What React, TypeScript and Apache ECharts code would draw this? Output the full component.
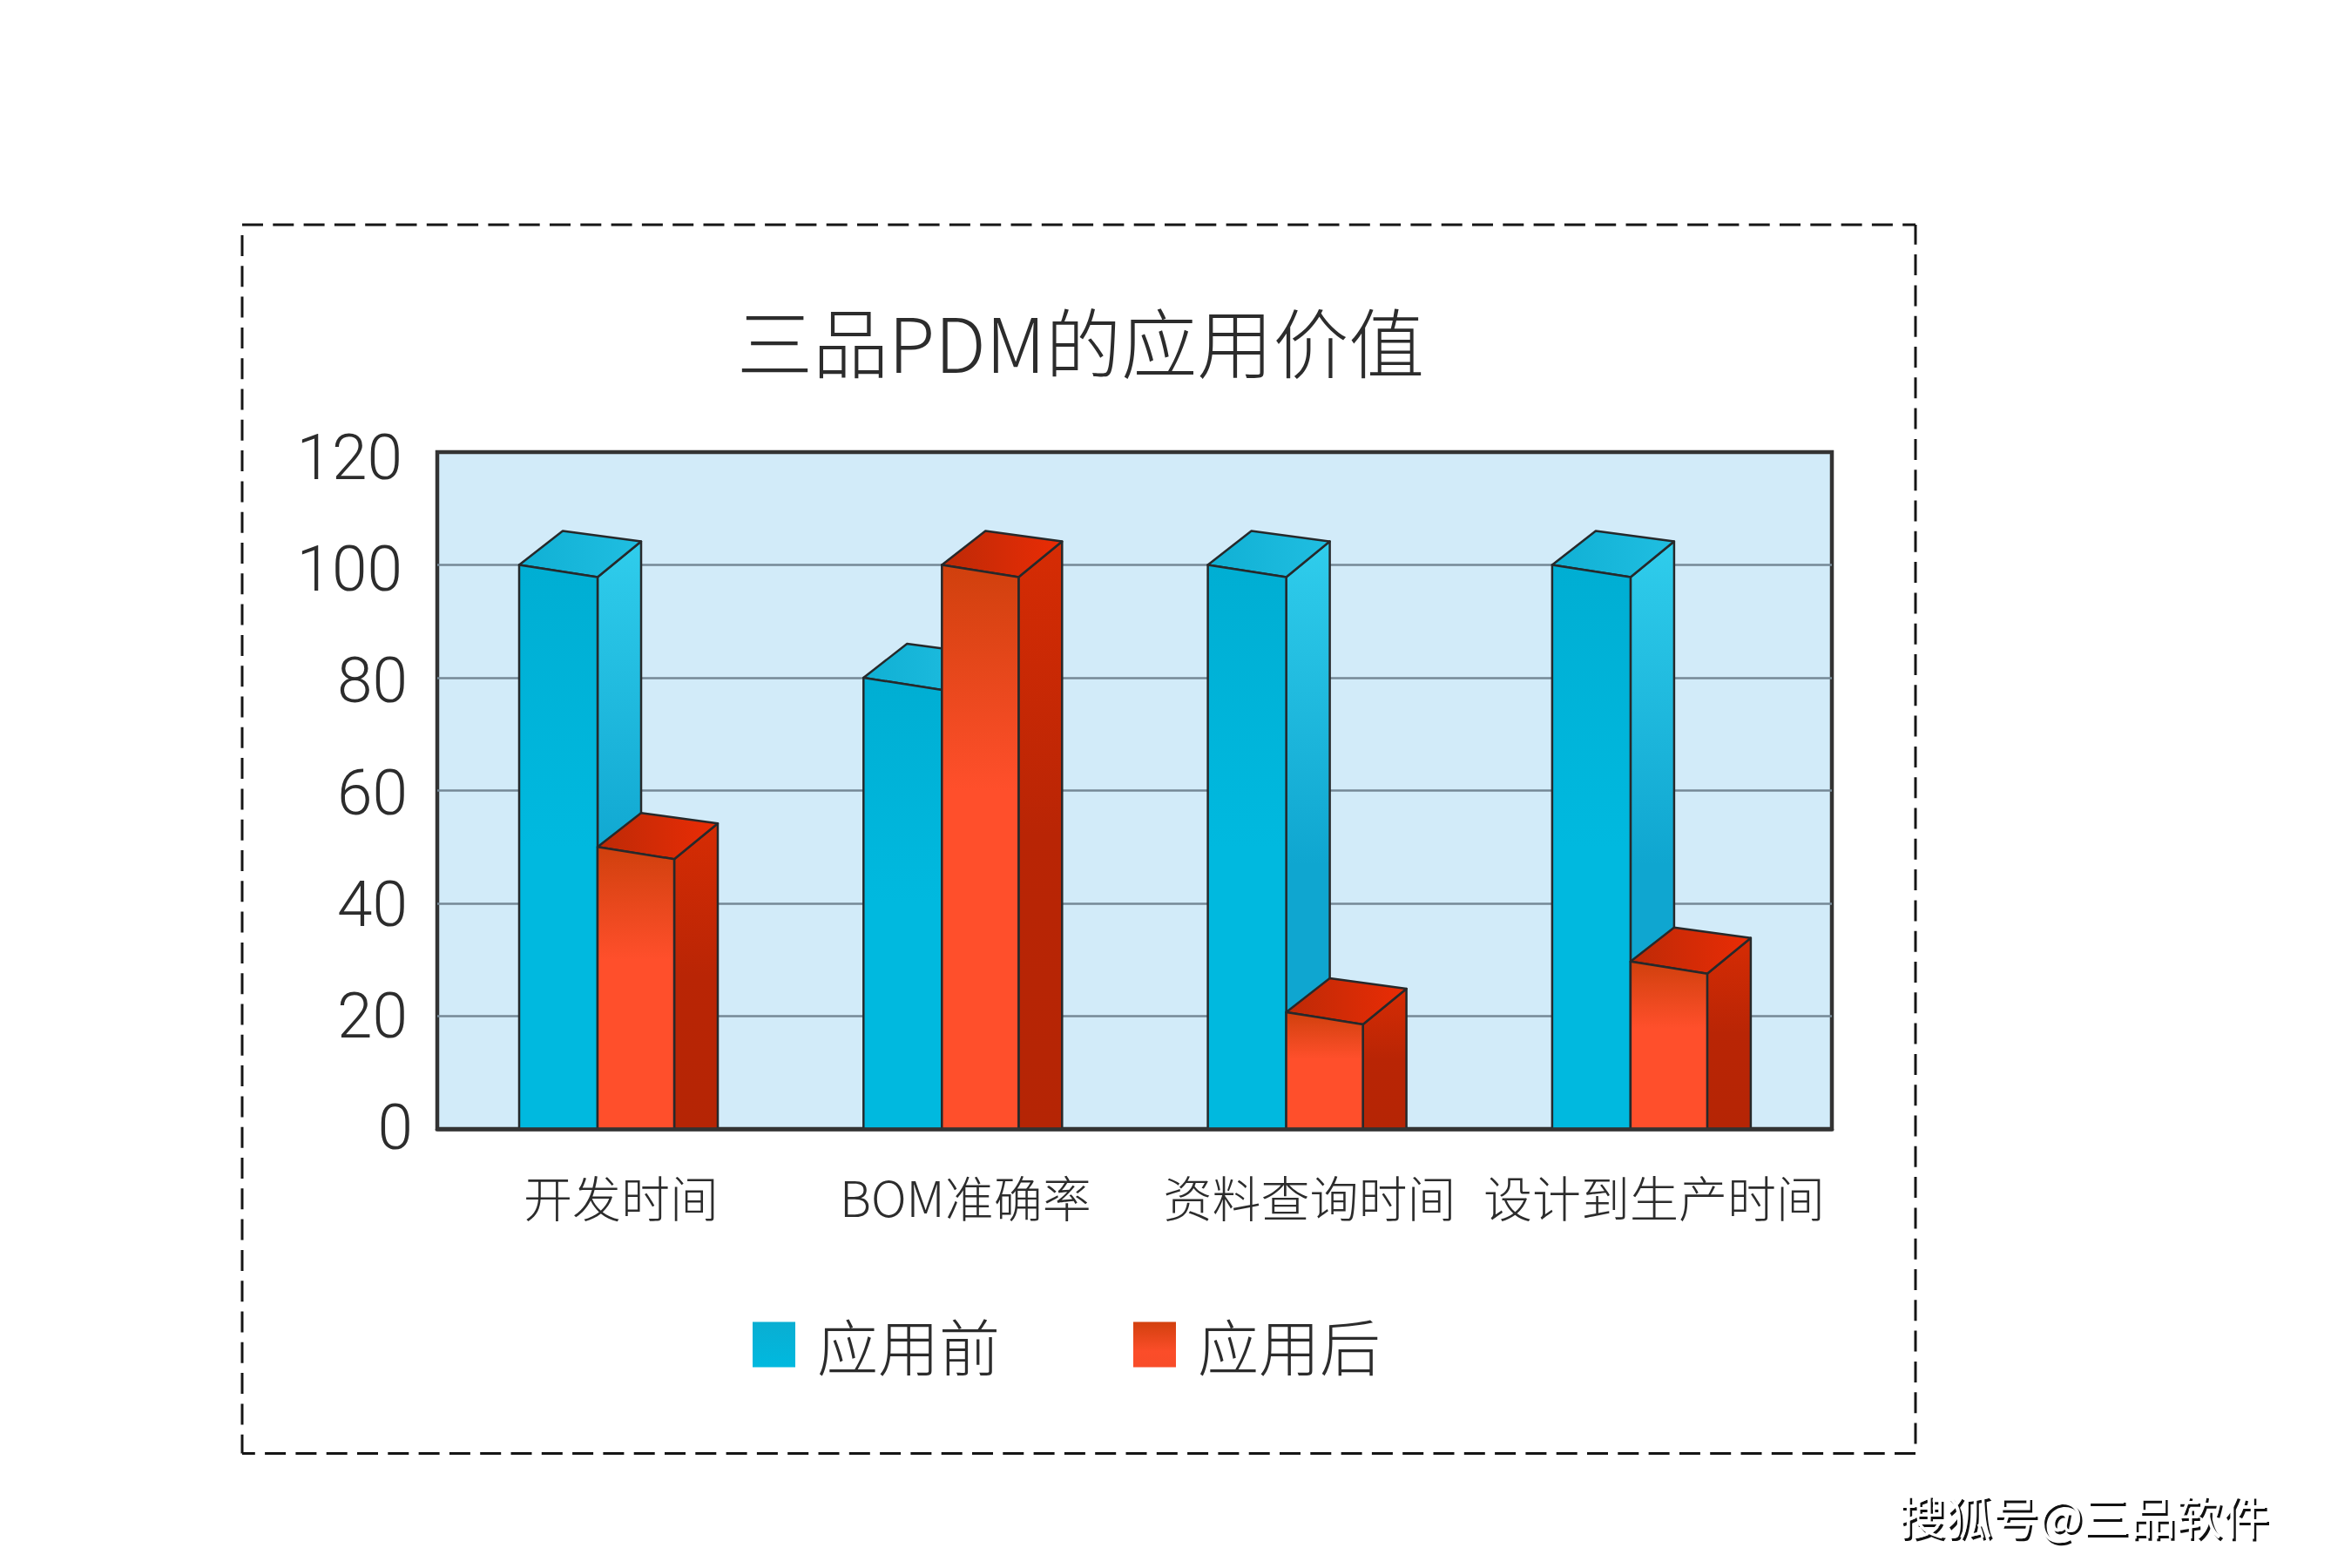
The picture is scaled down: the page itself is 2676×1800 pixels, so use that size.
import React, { useEffect, useRef } from "react";
import * as echarts from "echarts";

const titleText = "三品PDM的应用价值";
const watermarkText = "搜狐号@三品软件";
const categories = ["开发时间", "BOM准确率", "资料查询时间", "设计到生产时间"];
const seriesNames = ["应用前", "应用后"];
const beforeValues = [100, 80, 100, 100];
const afterValues = [50, 100, 20.7, 29.7];
const yTicks = [0, 20, 40, 60, 80, 100, 120];

const CJK = '"Noto Sans CJK SC", "Noto Sans", sans-serif';
const NUM = 'Roboto, "Liberation Sans", sans-serif';
const INK = "#2c2c2c";
const EDGE = "#26292b";

const PLOT = { left: 502, top: 519, width: 1601, height: 777 };
const BAND = { left: 515.35, width: 1581.2 };
const LABEL_BOX = { top: 525, height: 769 };

const grad = (x2: number, y2: number, stops: [number, string][]) =>
  new echarts.graphic.LinearGradient(
    0, 0, x2, y2,
    stops.map(([offset, color]) => ({ offset, color }))
  );

const bluePaint = {
  front: () => grad(0, 1, [[0, "#00aed3"], [0.5, "#00b9df"], [1, "#00b9df"]]),
  side: () => grad(0, 1, [[0, "#30cdec"], [0.55, "#0fa6d0"], [1, "#0fa6d0"]]),
  top: () => grad(1, 0, [[0, "#10b0d4"], [1, "#20bee1"]]),
};
const redPaint = {
  front: () => grad(0, 1, [[0, "#d0400d"], [0.4, "#ff4f2b"], [1, "#ff4f2b"]]),
  side: () => grad(0, 1, [[0, "#d62c04"], [0.5, "#b92505"], [1, "#b52505"]]),
  top: () => grad(1, 0, [[0, "#bd2a07"], [1, "#ea2c05"]]),
};

function makeRenderItem(offset: number, width: number, paint: typeof bluePaint) {
  const depthX = 50;
  const depthY = 39;
  const tilt = 14;
  const backTilt = 12;
  return (_params: any, api: any) => {
    const [cx, yTop] = api.coord([api.value(0), api.value(1)]);
    const [, yBase] = api.coord([api.value(0), 0]);
    const l = cx + offset;
    const r = l + width;
    const poly = (points: number[][], fill: any) => ({
      type: "polygon",
      shape: { points },
      style: { fill, stroke: EDGE, lineWidth: 2.5, lineJoin: "round" },
    });
    return {
      type: "group",
      children: [
        poly([[r, yTop + tilt], [r + depthX, yTop + tilt - depthY - 2], [r + depthX, yBase], [r, yBase]], paint.side()),
        poly([[l, yTop], [l + depthX, yTop - depthY], [r + depthX, yTop - depthY + backTilt], [r, yTop + tilt]], paint.top()),
        poly([[l, yTop], [r, yTop + tilt], [r, yBase], [l, yBase]], paint.front()),
      ],
    };
  };
}

const tickStyle = (pad: number) => ({
  fontFamily: NUM, fontSize: 73, fontWeight: 300, color: INK, padding: [0, pad, 0, 0],
});

export default function App() {
  const ref = useRef<HTMLDivElement>(null);
  useEffect(() => {
    const chart = echarts.init(ref.current!, undefined, { renderer: "svg" });
    const dash = { stroke: "#151515", lineWidth: 3, lineDash: [24, 11.3] };
    const frameBox = { l: 278, t: 258, r: 2199, b: 1668.5 };
    const wm = { x: 2180, y: 1712 };
    chart.setOption({
      animation: false,
      backgroundColor: "#ffffff",
      title: {
        text: titleText,
        left: 846,
        top: 346,
        padding: 0,
        textStyle: { fontFamily: CJK, fontSize: 87, fontWeight: 300, color: INK },
      },
      legend: {
        left: 864,
        top: 1508.5,
        padding: 0,
        itemWidth: 49,
        itemHeight: 52,
        itemGap: 153,
        icon: "rect",
        selectedMode: false,
        data: [
          { name: seriesNames[0], itemStyle: { color: grad(0, 1, [[0, "#0aaed2"], [1, "#00b9df"]]) } },
          { name: seriesNames[1], itemStyle: { color: grad(0, 1, [[0, "#d2400e"], [0.65, "#fb4d29"], [1, "#f84c29"]]) } },
        ],
        textStyle: { fontFamily: CJK, fontSize: 70, fontWeight: 300, color: INK, padding: [20, 0, 0, 20] },
      },
      grid: [
        {
          left: PLOT.left, top: PLOT.top, width: PLOT.width, height: PLOT.height,
          show: true, backgroundColor: "#d2ebf9", borderColor: "#333333", borderWidth: 4.5,
        },
        { left: BAND.left, top: PLOT.top, width: BAND.width, height: PLOT.height },
        { left: PLOT.left, top: LABEL_BOX.top, width: PLOT.width, height: LABEL_BOX.height },
      ],
      xAxis: [
        {
          gridIndex: 0, type: "category", data: categories, z: 5,
          axisLine: { show: true, lineStyle: { color: "#333333", width: 4.5 } },
          axisTick: { show: false }, axisLabel: { show: false }, splitLine: { show: false },
        },
        {
          gridIndex: 1, type: "category", data: categories,
          axisLine: { show: false }, axisTick: { show: false },
          axisLabel: {
            interval: 0, margin: 48, fontFamily: CJK, fontSize: 56, fontWeight: 300, color: INK,
            hideOverlap: false,
          },
        },
        { gridIndex: 2, type: "category", data: categories, show: false },
      ],
      yAxis: [
        {
          gridIndex: 0, type: "value", min: 0, max: 120, interval: 20,
          axisLine: { show: false }, axisTick: { show: false }, axisLabel: { show: false },
          splitLine: { show: true, showMinLine: false, showMaxLine: false, lineStyle: { color: "#758896", width: 2.5 } },
        },
        { gridIndex: 1, type: "value", min: 0, max: 120, show: false, splitLine: { show: false } },
        {
          gridIndex: 2, type: "value", min: 0, max: 120, interval: 20,
          axisLine: { show: false }, axisTick: { show: false }, splitLine: { show: false },
          axisLabel: {
            margin: 28,
            formatter: (v: number) => {
              const text = String(yTicks[yTicks.indexOf(v)]);
              return `{d${text.length}|${text}}`;
            },
            rich: { d1: tickStyle(0), d2: tickStyle(6), d3: tickStyle(12) },
          },
        },
      ],
      series: [
        {
          name: seriesNames[0], type: "custom", xAxisIndex: 1, yAxisIndex: 1, clip: false,
          data: categories.map((_, i) => [i, beforeValues[i]]),
          renderItem: makeRenderItem(-117, 90, bluePaint),
          itemStyle: { color: "#00b9df" },
        },
        {
          name: seriesNames[1], type: "custom", xAxisIndex: 1, yAxisIndex: 1, clip: false,
          data: categories.map((_, i) => [i, afterValues[i]]),
          renderItem: makeRenderItem(-27, 88, redPaint),
          itemStyle: { color: "#fb4d29" },
        },
      ],
      graphic: [
        { type: "line", silent: true, shape: { x1: frameBox.l, y1: frameBox.t, x2: frameBox.r, y2: frameBox.t }, style: dash },
        { type: "line", silent: true, shape: { x1: frameBox.l, y1: frameBox.t + 12, x2: frameBox.l, y2: frameBox.b }, style: dash },
        { type: "line", silent: true, shape: { x1: frameBox.r, y1: frameBox.b - 11, x2: frameBox.r, y2: frameBox.t }, style: dash },
        { type: "line", silent: true, shape: { x1: frameBox.r, y1: frameBox.b, x2: frameBox.l, y2: frameBox.b }, style: dash },
        {
          type: "text", silent: true, x: wm.x + 2.5, y: wm.y + 2.5,
          style: { text: watermarkText, font: `53.5px ${CJK}`, fill: "#111111" },
        },
        {
          type: "text", silent: true, x: wm.x, y: wm.y,
          style: { text: watermarkText, font: `53.5px ${CJK}`, fill: "#ffffff" },
        },
      ],
    });
    return () => chart.dispose();
  }, []);
  return <div ref={ref} style={{ position: "absolute", left: 0, top: 0, width: 2676, height: 1800 }} />;
}
